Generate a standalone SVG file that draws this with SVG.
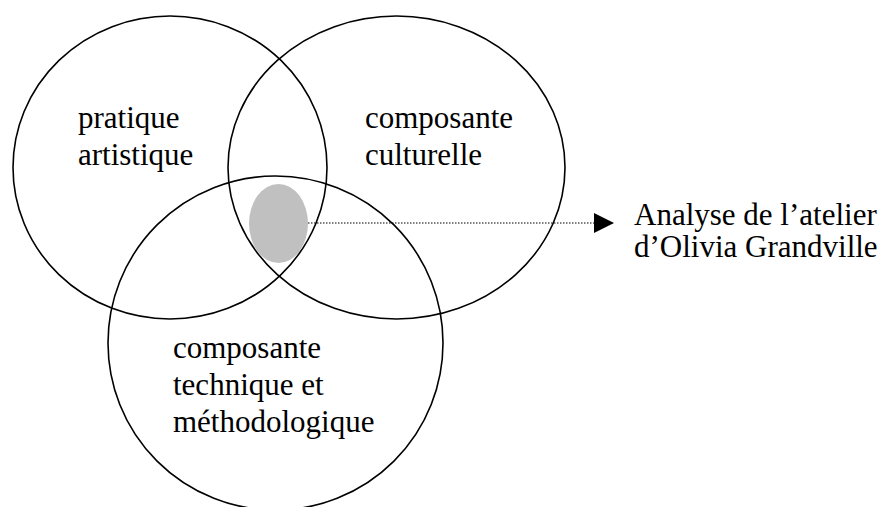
<svg xmlns="http://www.w3.org/2000/svg" width="887" height="507" viewBox="0 0 887 507">
<style>
.c{fill:none;stroke:#000;stroke-width:1.6}
.t{font-family:"Liberation Serif","Times New Roman",serif;font-size:31px;fill:#000}
</style>
<defs>
<marker id="ah" viewBox="0 0 10 10" refX="10" refY="5" markerWidth="21" markerHeight="20" markerUnits="userSpaceOnUse" orient="auto">
<path d="M0,0 L10,5 L0,10 Z" fill="#000"/>
</marker>
</defs>
<rect width="887" height="507" fill="#fff"/>
<g id="core">
<ellipse cx="278.5" cy="223.5" rx="29.5" ry="39.5" fill="#c0c0c0"/>
</g>
<g id="pratique">
<ellipse class="c" cx="170" cy="167.5" rx="157" ry="151.5"/>
<text class="t" x="78" y="128">pratique</text>
<text class="t" x="78" y="165">artistique</text>
</g>
<g id="culturelle">
<ellipse class="c" cx="396.5" cy="167.5" rx="168.5" ry="151.5"/>
<text class="t" x="365" y="128">composante</text>
<text class="t" x="365" y="165">culturelle</text>
</g>
<g id="technique">
<ellipse class="c" cx="275.5" cy="343" rx="167.5" ry="167"/>
<text class="t" x="173" y="358">composante</text>
<text class="t" x="173" y="395">technique et</text>
<text class="t" x="173" y="432">méthodologique</text>
</g>
<g id="analyse">
<text class="t" x="634" y="225">Analyse de l’atelier</text>
<text class="t" x="634" y="257">d’Olivia Grandville</text>
</g>
<g id="connectors">
<line x1="308" y1="223" x2="614" y2="223" stroke="#000" stroke-width="1.2" stroke-dasharray="1.5,1.5" marker-end="url(#ah)"/>
</g>
</svg>
